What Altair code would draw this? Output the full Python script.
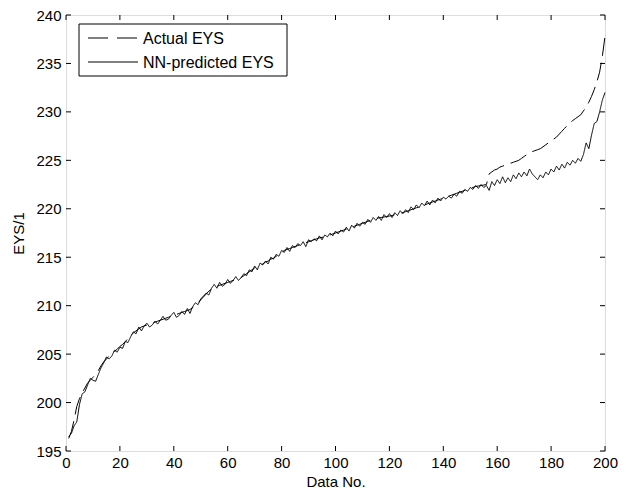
import altair as alt
import pandas as pd

data_no = list(range(1, 201))

actual = [
    196.3, 197.0, 198.2, 199.6, 200.4, 201.0, 201.5, 202.0, 202.3, 202.6,
    202.9, 203.3, 203.8, 204.2, 204.5, 204.8, 205.0, 205.3, 205.5, 205.8,
    206.0, 206.3, 206.6, 206.9, 207.2, 207.4, 207.6, 207.8, 207.9, 208.0,
    208.1, 208.2, 208.3, 208.4, 208.5, 208.6, 208.7, 208.8, 208.9, 209.0,
    209.1, 209.2, 209.3, 209.4, 209.5, 209.6, 209.8, 210.0, 210.3, 210.6,
    210.9, 211.2, 211.5, 211.7, 211.9, 212.0, 212.1, 212.2, 212.3, 212.4,
    212.5, 212.6, 212.7, 212.8, 212.9, 213.1, 213.3, 213.5, 213.7, 213.9,
    214.0, 214.2, 214.3, 214.5, 214.6, 214.8, 214.9, 215.1, 215.3, 215.5,
    215.7, 215.8, 215.9, 216.0, 216.1, 216.2, 216.3, 216.4, 216.5, 216.6,
    216.7, 216.8, 216.9, 217.0, 217.05, 217.1, 217.2, 217.3, 217.4, 217.5,
    217.6, 217.7, 217.8, 217.9, 218.0, 218.1, 218.2, 218.3, 218.4, 218.5,
    218.6, 218.7, 218.8, 218.9, 219.0, 219.05, 219.1, 219.15, 219.2, 219.25,
    219.3, 219.4, 219.5, 219.55, 219.6, 219.7, 219.8, 219.9, 220.0, 220.1,
    220.2, 220.3, 220.4, 220.5, 220.6, 220.7, 220.8, 220.9, 221.0, 221.1,
    221.2, 221.3, 221.4, 221.5, 221.6, 221.7, 221.8, 221.9, 222.0, 222.1,
    222.2, 222.3, 222.35, 222.4, 222.45, 222.5, 223.6, 223.8, 224.0, 224.1,
    224.3, 224.4, 224.5, 224.6, 224.7, 224.8, 224.9, 225.0, 225.2, 225.4,
    225.6, 225.8, 225.9, 226.0, 226.1, 226.2, 226.4, 226.6, 226.8, 227.0,
    227.2, 227.4, 227.7, 228.0, 228.3, 228.6, 228.9, 229.1, 229.3, 229.5,
    229.7, 230.1, 230.5, 231.0, 231.6, 232.3, 233.1, 234.1, 235.7, 237.8,
]

predicted = [
    196.5, 196.8, 197.6, 198.0, 199.8, 200.9, 201.1, 201.8, 202.5, 202.3,
    202.2, 202.9, 203.6, 204.1, 204.7, 204.5, 204.8, 205.4, 205.2, 205.7,
    205.6, 206.3, 206.2, 206.8, 207.3, 207.1, 207.8, 207.4, 207.9, 208.2,
    207.8, 208.0, 208.4, 208.1, 208.5, 208.9, 208.5, 208.6, 209.0, 209.3,
    208.8, 209.0, 209.4, 209.1, 209.7, 209.2, 209.9, 210.3, 210.1, 210.7,
    211.0, 211.3, 211.1, 211.8, 212.2, 211.8, 212.4, 212.0, 212.2, 212.7,
    212.3, 212.6, 213.0, 212.6, 212.9, 213.3, 213.1, 213.7, 213.5, 214.1,
    213.7, 214.4, 214.2, 214.6, 214.3, 215.0, 214.8, 215.3, 215.1, 215.7,
    215.5, 216.0, 215.6, 216.2, 216.0, 216.4, 216.2, 216.6, 216.1, 216.8,
    216.6, 216.9, 216.7, 217.2, 216.8, 217.3, 217.1, 217.5, 217.2, 217.7,
    217.4, 217.8, 217.6, 218.1, 217.7, 218.3, 218.0, 218.5, 218.2, 218.6,
    218.4, 218.9, 218.6, 219.1, 218.8, 219.2, 218.8, 219.4, 219.1, 219.5,
    219.1, 219.6, 219.3, 219.8, 219.5, 219.9, 219.6, 220.2, 219.9, 220.4,
    220.1, 220.6, 220.3, 220.8, 220.4, 220.9, 220.6, 221.1, 220.8, 221.2,
    221.0, 221.3, 221.1, 221.5, 221.3, 221.8, 221.6, 222.0, 221.8, 222.2,
    222.0, 222.4, 222.1, 222.5, 222.2, 222.4, 221.9, 222.8, 222.4, 223.0,
    222.6, 223.3, 222.7, 223.2, 222.8, 223.5, 223.1, 223.7, 223.3, 223.8,
    223.4, 224.1, 223.6, 223.3, 223.0, 223.5, 223.2, 223.8, 223.5, 224.1,
    223.8, 224.4, 224.0, 224.6, 224.2, 224.8, 224.5, 225.0, 224.7, 225.2,
    224.9, 225.6, 226.8, 226.2, 227.6, 228.8, 229.0, 230.0, 231.2, 232.0,
]

series_names = ["Actual EYS", "NN-predicted EYS"]
x_ticks = [0, 20, 40, 60, 80, 100, 120, 140, 160, 180, 200]
y_ticks = [195, 200, 205, 210, 215, 220, 225, 230, 235, 240]

W, H = 539, 436
FONT = "Liberation Sans"
DASH = [18, 7]

rows = []
for n, v in zip(data_no, actual):
    rows.append({"x": n, "y": v, "series": series_names[0]})
for n, v in zip(data_no, predicted):
    rows.append({"x": n, "y": v, "series": series_names[1]})
df = pd.DataFrame(rows)

xscale = alt.Scale(domain=[0, 200], nice=False, zero=False)
yscale = alt.Scale(domain=[195, 240], nice=False, zero=False)

xaxis = alt.Axis(
    title="Data No.", values=x_ticks, ticks=False, domain=False, grid=False,
    labelPadding=4, titlePadding=4, labelFontSize=15, titleFontSize=15,
    titleFontWeight="normal", labelFont=FONT, titleFont=FONT,
    labelColor="black", titleColor="black", labelFlush=False, labelOverlap=False,
)
yaxis = alt.Axis(
    title="EYS/1", values=y_ticks, ticks=False, domain=False, grid=False,
    labelPadding=5, titlePadding=9, labelFontSize=15, titleFontSize=15,
    titleFontWeight="normal", labelFont=FONT, titleFont=FONT,
    labelColor="black", titleColor="black", labelFlush=False, labelOverlap=False,
)

X = alt.X("x:Q", scale=xscale, axis=xaxis)
Y = alt.Y("y:Q", scale=yscale, axis=yaxis)

lines = alt.Chart(df).mark_line(color="black", strokeWidth=1).encode(
    x=X,
    y=Y,
    strokeDash=alt.StrokeDash(
        "series:N",
        scale=alt.Scale(domain=series_names, range=[DASH, [1, 0]]),
        legend=None,
    ),
)

xt = pd.DataFrame({"x": x_ticks})
yt = pd.DataFrame({"y": y_ticks})

xb = alt.Chart(xt).mark_rule(color="black", strokeWidth=1).encode(
    x=X, y=alt.value(H - 5), y2=alt.value(H))
xtop = alt.Chart(xt).mark_rule(color="black", strokeWidth=1).encode(
    x=X, y=alt.value(0), y2=alt.value(5))
yl = alt.Chart(yt).mark_rule(color="black", strokeWidth=1).encode(
    y=Y, x=alt.value(0), x2=alt.value(5))
yr = alt.Chart(yt).mark_rule(color="black", strokeWidth=1).encode(
    y=Y, x=alt.value(W - 5), x2=alt.value(W))

# legend (drawn manually)
LX0, LX1, LY0, LY1 = 13, 221, 9, 61
ROW_Y = [23, 47]
leg_box = alt.Chart(pd.DataFrame({"label": series_names[:1]})).mark_rect(
    fill="white", stroke="black", strokeWidth=1
).encode(x=alt.value(LX0), x2=alt.value(LX1), y=alt.value(LY0), y2=alt.value(LY1))

leg_layers = [leg_box]
for i, name in enumerate(series_names):
    d = pd.DataFrame({"label": [name]})
    rule = alt.Chart(d).mark_rule(
        color="black", strokeWidth=1,
        strokeDash=[20, 9] if i == 0 else [1, 0],
    ).encode(x=alt.value(22), x2=alt.value(72), y=alt.value(ROW_Y[i]))
    txt = alt.Chart(d).mark_text(
        align="left", baseline="middle", fontSize=16, font=FONT, color="black"
    ).encode(x=alt.value(77), y=alt.value(ROW_Y[i] + 1), text="label:N")
    leg_layers += [rule, txt]

chart = alt.layer(xb, xtop, yl, yr, lines, *leg_layers).properties(
    width=W, height=H,
    padding={"left": 58, "top": 7, "right": 13, "bottom": 40},
    autosize=alt.AutoSizeParams(type="none"),
    background="white",
).configure_view(stroke="black", strokeWidth=1).configure(font=FONT)

chart.save("out.html", embed_options={"renderer": "svg", "actions": False})
